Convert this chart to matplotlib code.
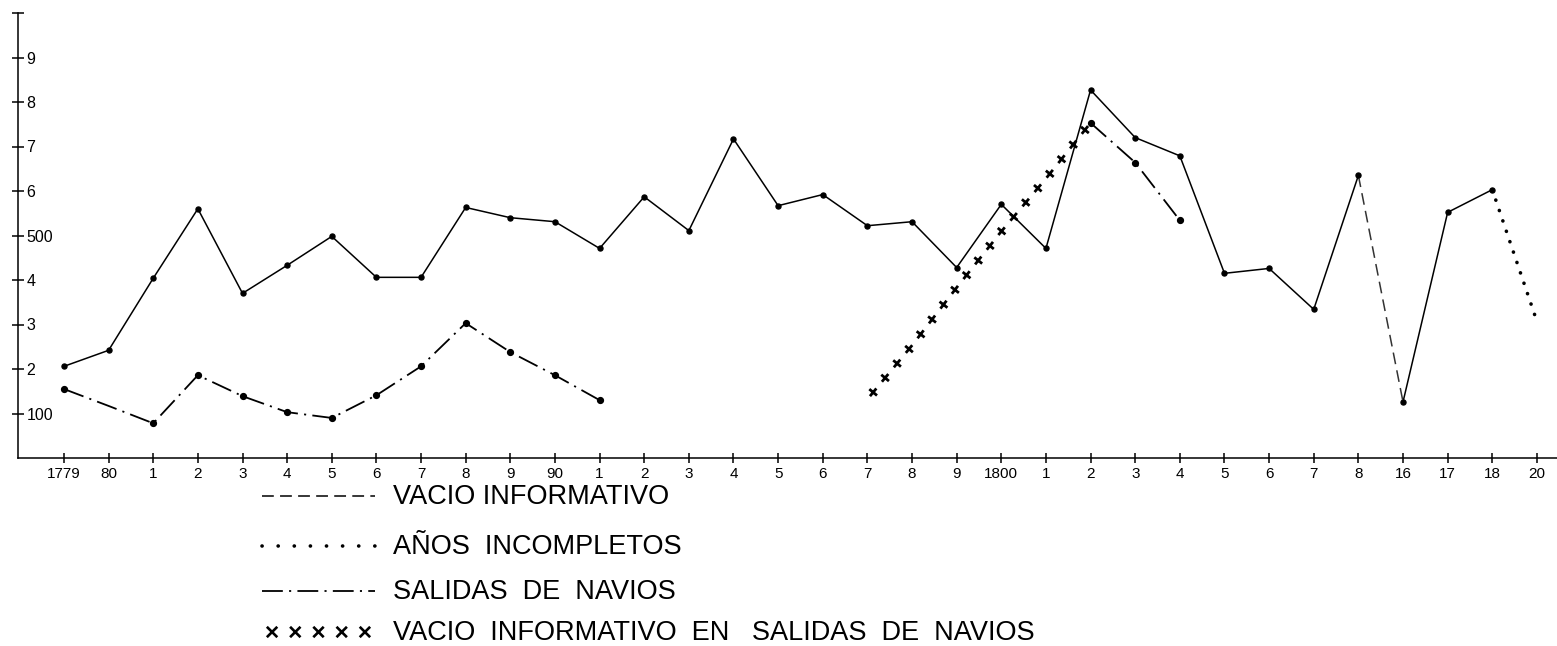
import numpy as np
import matplotlib
matplotlib.use("Agg")
import matplotlib.pyplot as plt
from matplotlib.lines import Line2D
import matplotlib.patheffects as pe

# ---- data -----------------------------------------------------------
year_labels = ["1779", "80", "1", "2", "3", "4", "5", "6", "7", "8", "9",
               "90", "1", "2", "3", "4", "5", "6", "7", "8", "9",
               "1800", "1", "2", "3", "4", "5", "6", "7", "8",
               "16", "17", "18", "20"]

# main series (solid line)
main_values = [206, 242, 404, 560, 370, 433, 498, 406, 406, 563, 540,
               531, 471, 587, 511, 717, 567, 592, 522, 531, 428,
               570, 471, 827, 720, 679, 415, 426, 334, 635,
               126, 552, 603, 307]

nan = float("nan")
# salidas de navios (dash-dot)
salidas_values = [155, 117, 78, 186, 139, 103, 90, 141, 206, 303, 238,
                  186, 130, nan, nan, nan, nan, nan, nan, nan, nan,
                  nan, nan, 753, 664, 534, nan, nan, nan, nan,
                  nan, nan, nan, nan]

# vacio informativo en salidas de navios (crosses)
vacio_salidas_values = [nan] * 18 + [132, 253, 383, 509, 628, 753] + [nan] * 10

y_tick_values = [100, 200, 300, 400, 500, 600, 700, 800, 900, 1000]
y_tick_labels = ["100", "2", "3", "4", "500", "6", "7", "8", "9", ""]

legend_labels = ["VACIO INFORMATIVO",
                 "AÑOS  INCOMPLETOS",
                 "SALIDAS  DE  NAVIOS",
                 "VACIO  INFORMATIVO  EN   SALIDAS  DE  NAVIOS"]

# ---- styles ---------------------------------------------------------
plt.rcParams["font.family"] = ["Liberation Sans", "DejaVu Sans"]
plt.rcParams["lines.scale_dashes"] = False

W, H = 1557, 646
fig = plt.figure(figsize=(W / 100, H / 100), dpi=100)
fig.patch.set_facecolor("white")
ax = fig.add_axes([18 / W, 188 / H, (W - 18) / W, 445 / H])

x = np.arange(len(year_labels))
main = np.array(main_values, float)
sal = np.array(salidas_values, float)
vsal = np.array(vacio_salidas_values, float)

solid_kw = dict(color="black", lw=1.1, solid_joinstyle="miter")
dashed_style = (0, (8.5, 4.5))
dotted_style = (0, (0.1, 7.8))
dashdot_style = (0, (15, 4.5, 1.5, 4.5))

# main line segments
ax.plot(x[:30], main[:30], **solid_kw)
ax.plot(x[30:33], main[30:33], **solid_kw)
ax.plot(x[29:31], main[29:31], color="black", lw=1.1, ls=dashed_style, alpha=0.8)
ax.plot(x[32:34], main[32:34], color="black", lw=2.6, ls=dotted_style,
        dash_capstyle="round")
ax.plot(x[:33], main[:33], ls="none", marker="o", ms=3.6, color="black")

# salidas de navios
ax.plot(x[:13], sal[:13], color="black", lw=1.3, ls=dashdot_style)
ax.plot(x[23:26], sal[23:26], color="black", lw=1.3, ls=dashdot_style)
mk_idx = [0] + list(range(2, 13)) + [23, 24, 25]
ax.plot(x[mk_idx], sal[mk_idx], ls="none", marker="o", ms=4.2, color="black")


# crosses drawn along the path
def cross_effects(angles, spacing=13.0, length=0.22, lw=2.0):
    return [pe.TickedStroke(spacing=spacing, angle=a, length=length,
                            linewidth=lw, foreground="black")
            for a in angles]


ax.plot(x[18:24], vsal[18:24], color="black", lw=1.5,
        path_effects=cross_effects((0, 90, 180, -90), spacing=13.0,
                                   length=0.2, lw=2.0))

# ---- axes -----------------------------------------------------------
ax.set_xlim(-1.03, 33.45)
ax.set_ylim(0, 1000)
for s in ("top", "right"):
    ax.spines[s].set_visible(False)
for s in ("left", "bottom"):
    ax.spines[s].set_linewidth(1.1)
ax.set_xticks(x)
ax.set_xticklabels(year_labels, fontsize=11)
ax.set_yticks(y_tick_values)
ax.set_yticklabels(y_tick_labels, fontsize=11.5)
ax.tick_params(axis="x", direction="inout", length=7, width=1.1, pad=3)
ax.tick_params(axis="y", direction="inout", length=8, width=1.1, pad=-10)
for lab in ax.get_yticklabels():
    lab.set_horizontalalignment("left")
ax.patch.set_alpha(0)

# ---- legend (drawn manually below the chart) ------------------------
rows_y = [496, 546, 591, 632]
line_x = [262 / W, 375 / W]
styles = [
    dict(color="black", lw=1.1, ls=dashed_style),
    dict(color="black", lw=2.6, ls=(0, (0.1, 11.5)), dash_capstyle="round"),
    dict(color="black", lw=1.3, ls=dashdot_style),
    dict(color="black", lw=1.5,
         path_effects=cross_effects((45, 135, -45, -135), spacing=14.5,
                                    length=0.3, lw=1.9)),
]
for yy, st, lab in zip(rows_y, styles, legend_labels):
    yf = 1 - yy / H
    fig.add_artist(Line2D(line_x, [yf, yf], transform=fig.transFigure, **st))
    fig.text(393 / W, 1 - (yy + 8) / H, lab, fontsize=19.5, va="baseline",
             ha="left", color="black")

fig.savefig("out.png", dpi=100, facecolor="white")
